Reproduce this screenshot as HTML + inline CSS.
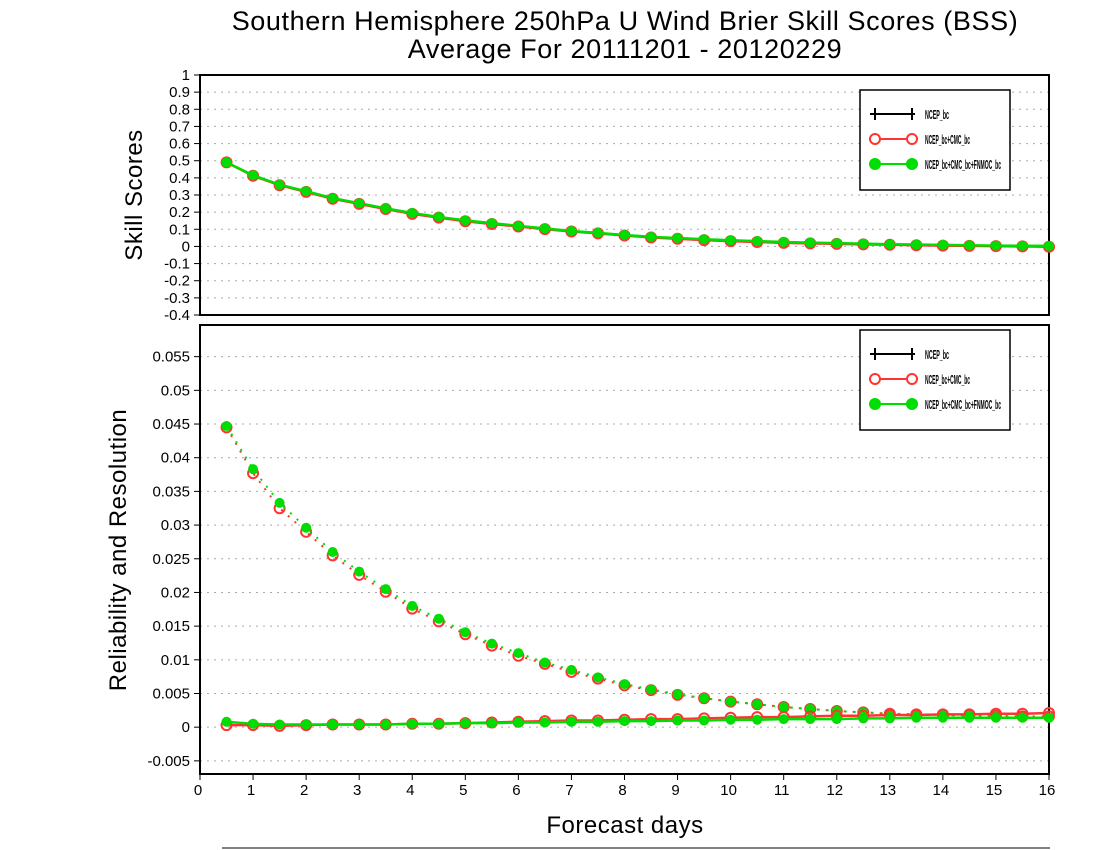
<!DOCTYPE html>
<html><head><meta charset="utf-8">
<style>
html,body{margin:0;padding:0;background:#fff;}
svg{display:block;font-family:"Liberation Sans",sans-serif;}
</style></head>
<body>
<svg id="chart" width="1100" height="850" viewBox="0 0 1100 850" xmlns="http://www.w3.org/2000/svg">
<text x="625" y="30" font-size="27" text-anchor="middle" letter-spacing="0.6">Southern Hemisphere 250hPa U Wind Brier Skill Scores (BSS)</text>
<text x="625" y="58" font-size="27" text-anchor="middle" letter-spacing="0.6">Average For 20111201 - 20120229</text>
<text transform="translate(142,195) rotate(-90)" font-size="24" text-anchor="middle" letter-spacing="0.5">Skill Scores</text>
<text transform="translate(126,550) rotate(-90)" font-size="24" text-anchor="middle" letter-spacing="0.5">Reliability and Resolution</text>
<text x="625" y="833" font-size="24" text-anchor="middle" letter-spacing="0.5">Forecast days</text>
<line x1="222" y1="848" x2="1050" y2="848" stroke="#000" stroke-width="1"/>
<g id="top"></g>
<g id="bot"></g>
</svg>
<script>
// shared x data
const days = [0.5,1,1.5,2,2.5,3,3.5,4,4.5,5,5.5,6,6.5,7,7.5,8,8.5,9,9.5,10,10.5,11,11.5,12,12.5,13,13.5,14,14.5,15,15.5,16];
const xTicks = [0,1,2,3,4,5,6,7,8,9,10,11,12,13,14,15,16];
// top panel: BSS
const bssTicks = [-0.4,-0.3,-0.2,-0.1,0,0.1,0.2,0.3,0.4,0.5,0.6,0.7,0.8,0.9,1];
const bssRed = [0.49,0.412,0.357,0.318,0.278,0.248,0.218,0.19,0.168,0.147,0.131,0.116,0.101,0.087,0.076,0.064,0.052,0.045,0.037,0.031,0.026,0.021,0.018,0.015,0.012,0.01,0.007,0.005,0.003,0.002,0.0,-0.002];
const bssGreen = [0.49,0.415,0.36,0.322,0.282,0.252,0.222,0.195,0.172,0.152,0.136,0.12,0.105,0.09,0.079,0.067,0.056,0.049,0.042,0.036,0.031,0.026,0.022,0.019,0.016,0.013,0.011,0.009,0.007,0.005,0.004,0.003];
// bottom panel: reliability (solid) & resolution (dotted)
const rrTicks = [-0.005,0,0.005,0.01,0.015,0.02,0.025,0.03,0.035,0.04,0.045,0.05,0.055];
const rrTickLabels = ["-0.005","0","0.005","0.01","0.015","0.02","0.025","0.03","0.035","0.04","0.045","0.05","0.055"];
const resRed = [0.0445,0.0377,0.0325,0.029,0.0255,0.0226,0.0201,0.0176,0.0157,0.0138,0.0121,0.0106,0.0094,0.0082,0.0072,0.0062,0.0055,0.0048,0.0043,0.0038,0.0034,0.003,0.0027,0.0024,0.0022,0.002,0.0019,0.0018,0.0018,0.0017,0.0016,0.0016];
const resGreen = [0.0447,0.0383,0.0333,0.0296,0.026,0.0231,0.0205,0.018,0.0161,0.0141,0.0124,0.011,0.0096,0.0085,0.0074,0.0064,0.0056,0.0049,0.0043,0.0038,0.0034,0.003,0.0027,0.0024,0.0022,0.002,0.0019,0.0018,0.0017,0.0016,0.0015,0.0014];
const relRed = [0.0003,0.0003,0.0002,0.0003,0.0004,0.0004,0.0004,0.0005,0.0005,0.0006,0.0007,0.0008,0.0009,0.001,0.001,0.0011,0.0012,0.0012,0.0013,0.0014,0.0015,0.0015,0.0016,0.0017,0.0017,0.0018,0.0018,0.0019,0.0019,0.002,0.002,0.0021];
const relGreen = [0.0008,0.0005,0.0004,0.0004,0.0004,0.0004,0.0004,0.0005,0.0005,0.0006,0.0006,0.0007,0.0007,0.0008,0.0008,0.0009,0.0009,0.001,0.001,0.0011,0.0011,0.0012,0.0012,0.0012,0.0013,0.0013,0.0014,0.0014,0.0014,0.0014,0.0014,0.0014];
const legendLabels = ["NCEP_bc","NCEP_bc+CMC_bc","NCEP_bc+CMC_bc+FNMOC_bc"];

const NS="http://www.w3.org/2000/svg";
const X0=200,X1=1049;
function xs(d){return X0+(d-0)/(16-0)*(X1-X0);}
function mk(tag,attrs,parent){const e=document.createElementNS(NS,tag);for(const k in attrs)e.setAttribute(k,attrs[k]);parent.appendChild(e);return e;}

function panel(g,top,bot,ymin,ymax,ticks,labels,prefix){
  const ys=v=>bot-(v-ymin)/(ymax-ymin)*(bot-top);
  ticks.forEach((t,i)=>{
    const y=ys(t);
    if(y>top+1&&y<bot-1){const l=mk('line',{x1:X0,x2:X1,y1:y,y2:y,stroke:'#aaa','stroke-dasharray':'2,5','stroke-width':1},g);
    
    }
    const tk=mk('line',{x1:X0-6,x2:X0,y1:y,y2:y,stroke:'#000','stroke-width':1},g);
    
    
    const tx=mk('text',{x:X0-10,y:y+5,'font-size':15,'text-anchor':'end'},g);
    
    
    tx.textContent=labels?labels[i]:String(t);
  });
  const r=mk('rect',{x:X0,y:top,width:X1-X0,height:bot-top,fill:'none',stroke:'#000','stroke-width':2},g);
  
  
  return ys;
}
function series(g,ys,vals,color,filled,dotted,name){
  const pts=days.map((d,i)=>xs(d)+','+ys(vals[i])).join(' ');
  const pl=mk('polyline',{points:pts,fill:'none',stroke:color,'stroke-width':dotted?2:2.5,'stroke-dasharray':dotted?'2,7':'none'},g);
  
  
  days.forEach((d,i)=>{
    const c=mk('circle',{cx:xs(d),cy:ys(vals[i]),r:5,fill:filled?color:'none',stroke:color,'stroke-width':filled?0:2},g);
    
    
  });
}
function legend(g,x,y){
  const b=mk('rect',{x:x,y:y,width:150,height:100,fill:'#fff',stroke:'#000','stroke-width':1.5},g);
  
  
  const cols=['#000','#f33','#0d0'];
  cols.forEach((c,i)=>{
    const yy=y+24+i*25;
    const l=mk('line',{x1:x+10,x2:x+55,y1:yy,y2:yy,stroke:c,'stroke-width':2},g);
    
    
    [x+15,x+52].forEach(cx=>{
      if(i==0){const t=mk('line',{x1:cx,x2:cx,y1:yy-6,y2:yy+6,stroke:c,'stroke-width':2},g);
      
      }
      else{const m=mk('circle',{cx:cx,cy:yy,r:5,fill:i==2?c:'#fff',stroke:c,'stroke-width':2},g);
      
      }
    });
    const t=mk('text',{x:x+65,y:yy+5,'font-size':13,'font-weight':'bold',textLength:[24,45,76][i],lengthAdjust:'spacingAndGlyphs'},g);
    
    
    t.textContent=legendLabels[i];
  });
}
const gt=document.getElementById('top'), gb=document.getElementById('bot');
const ysT=panel(gt,75,315,-0.4,1,bssTicks,null,'top');
series(gt,ysT,bssRed,'#f33',false,false,'bss-ncep-cmc');
series(gt,ysT,bssGreen,'#0d0',true,false,'bss-ncep-cmc-fnmoc');
legend(gt,860,90);
const ysB=panel(gb,325,774,-0.00695,0.0597,rrTicks,rrTickLabels,'bottom');
series(gb,ysB,resRed,'#f33',false,true,'resolution-ncep-cmc');
series(gb,ysB,resGreen,'#0d0',true,true,'resolution-ncep-cmc-fnmoc');
series(gb,ysB,relRed,'#f33',false,false,'reliability-ncep-cmc');
series(gb,ysB,relGreen,'#0d0',true,false,'reliability-ncep-cmc-fnmoc');
legend(gb,860,330);
xTicks.forEach(t=>{
  const x=xs(t);
  const tk=mk('line',{x1:x,x2:x,y1:774,y2:780,stroke:'#000','stroke-width':1},gb);
  
  
  const tx=mk('text',{x:x-2,y:795,'font-size':15,'text-anchor':'middle'},gb);
  
  
  tx.textContent=String(t);
});
</script>
</body></html>
